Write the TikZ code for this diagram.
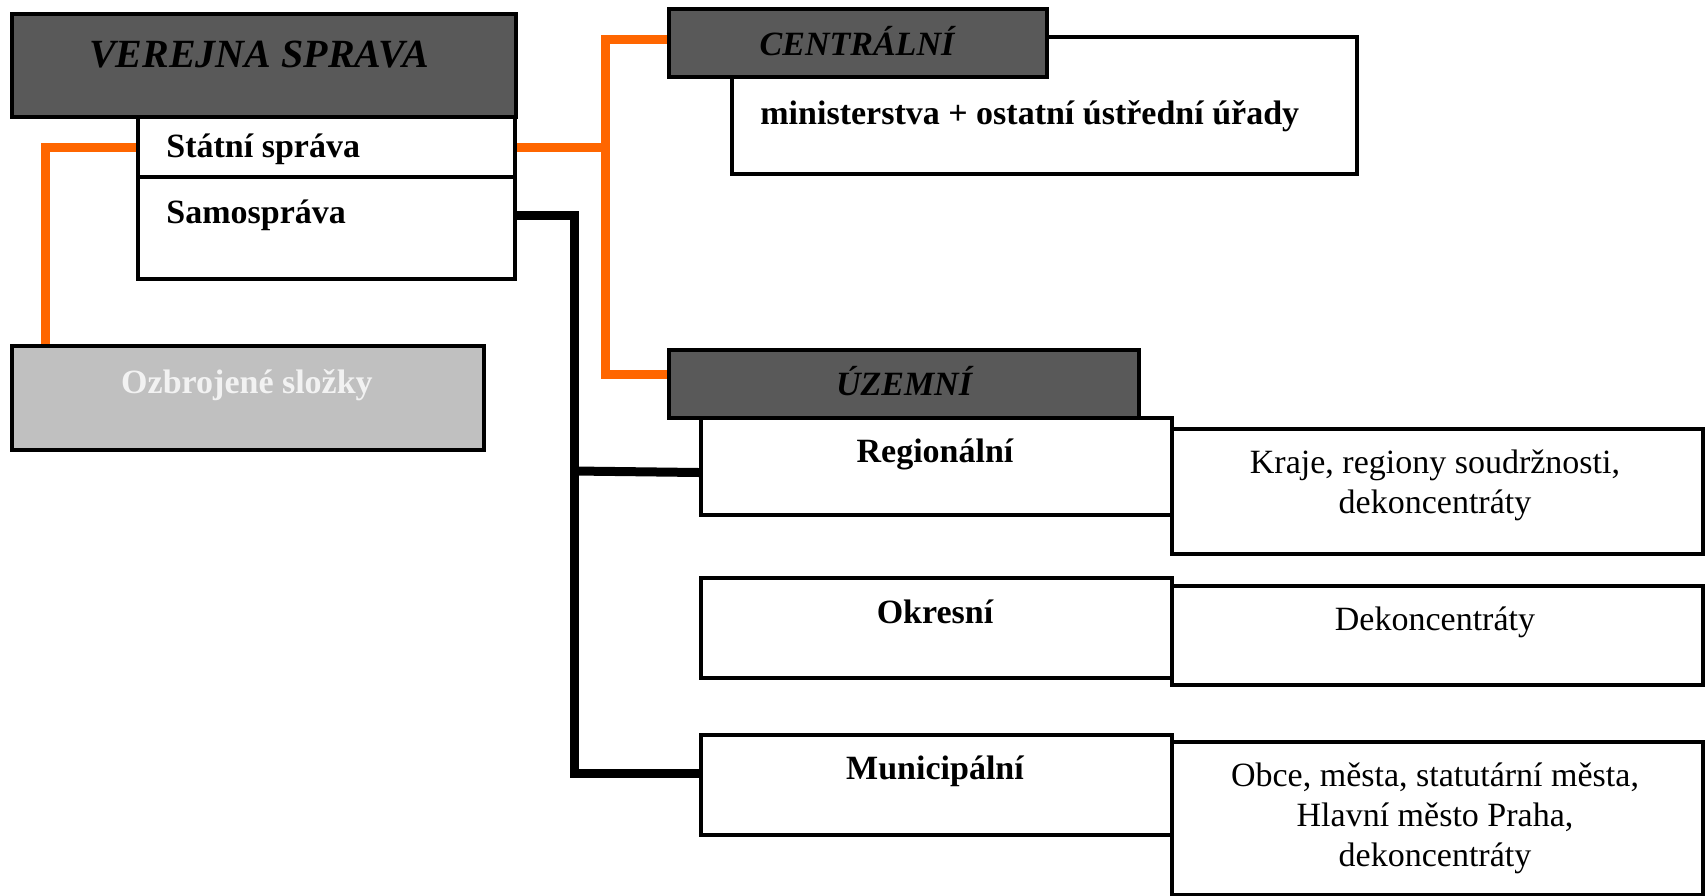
\documentclass[tikz,border=0pt]{standalone}
\usepackage{fontspec}
\setmainfont{Liberation Serif}
\usetikzlibrary{positioning,backgrounds}
\definecolor{headgrey}{HTML}{595959}
\definecolor{armygrey}{HTML}{C0C0C0}
\definecolor{linkorange}{HTML}{FF6600}
\definecolor{paletext}{HTML}{F2F2F2}
\tikzset{
  box/.style={draw=black, line width=2pt, fill=white, anchor=north west, inner sep=0pt},
  headbox/.style={box, fill=headgrey},
  txt/.style={font=\fontsize{17}{20}\selectfont, anchor=base, inner sep=0pt, align=center},
  orangelink/.style={draw=linkorange, line width=4.5pt},
  blacklink/.style={draw=black, line width=4.5pt},
}
\begin{document}
\begin{tikzpicture}[x=0.5pt, y=-0.5pt]
  \useasboundingbox (0,0) rectangle (1708,895);
  % left column
  \node[headbox, minimum width=252pt, minimum height=51.5pt] (verejna) at (10,12) {};
  \node[box, minimum width=188.5pt, minimum height=30pt] (statni) at (136,115) {};
  \node[box, minimum width=188.5pt, minimum height=51pt] (samo) at (136,175) {};
  \node[box, fill=armygrey, minimum width=236pt, minimum height=52pt] (ozbroj) at (10,344) {};
  % central level
  \node[box, minimum width=312.5pt, minimum height=68.5pt] (minist) at (730,35) {};
  \node[headbox, minimum width=189pt, minimum height=34pt] (central) at (667,7) {};
  % territorial level
  \node[headbox, minimum width=235pt, minimum height=34pt] (uzemni) at (667,348) {};
  \node[box, minimum width=235.5pt, minimum height=48.5pt] (region) at (699,416) {};
  \node[box, minimum width=265.5pt, minimum height=62.5pt] (kraje) at (1170,427) {};
  \node[box, minimum width=235.5pt, minimum height=50pt] (okres) at (699,576) {};
  \node[box, minimum width=265.5pt, minimum height=49.5pt] (dekonc) at (1170,584) {};
  \node[box, minimum width=235.5pt, minimum height=50pt] (munic) at (699,733) {};
  \node[box, minimum width=265.5pt, minimum height=76.5pt] (obce) at (1170,740) {};
  % texts (multi-line ones sit on their last line)
  \node[txt, font=\fontsize{20}{24}\selectfont\bfseries\itshape] (t-verejna) at (259,67) {VEREJNA SPRAVA};
  \node[txt, anchor=base west, font=\fontsize{17}{20}\selectfont\bfseries] (t-statni) at (166,157) {Státní správa};
  \node[txt, anchor=base west, font=\fontsize{17}{20}\selectfont\bfseries] (t-samo) at (166,223) {Samospráva};
  \node[txt, text=paletext, font=\fontsize{17}{20}\selectfont\bfseries] (t-ozbroj) at (247,393) {Ozbrojené složky};
  \node[txt, font=\fontsize{17}{20}\selectfont\bfseries\itshape] (t-central) at (857,55) {CENTRÁLNÍ};
  \node[txt, anchor=base west, font=\fontsize{17}{20}\selectfont\bfseries] (t-minist) at (760,124) {ministerstva + ostatní ústřední úřady};
  \node[txt, font=\fontsize{17}{20}\selectfont\bfseries\itshape] (t-uzemni) at (904,395) {ÚZEMNÍ};
  \node[txt, font=\fontsize{17}{20}\selectfont\bfseries] (t-region) at (935,462) {Regionální};
  \node[txt] (t-kraje) at (1435,513) {Kraje, regiony soudržnosti,\\dekoncentráty};
  \node[txt, font=\fontsize{17}{20}\selectfont\bfseries] (t-okres) at (935,623) {Okresní};
  \node[txt] (t-dekonc) at (1435,630) {Dekoncentráty};
  \node[txt, font=\fontsize{17}{20}\selectfont\bfseries] (t-munic) at (935,779) {Municipální};
  \node[txt] (t-obce) at (1435,866) {Obce, města, statutární města,\\Hlavní město Praha,\\dekoncentráty};
  % connectors
  \begin{scope}[on background layer]
    \coordinate (sj) at (605,147);
    \coordinate (bj) at (574,471);
    \draw[orangelink] (statni.west) -| ([xshift=17.5pt]ozbroj.north west);
    \draw[orangelink] (statni.east) -- (sj);
    \draw[orangelink] ([yshift=2pt]central.west) -| (sj) |- ([yshift=5pt]uzemni.west);
    \draw[blacklink] ([yshift=6.5pt]samo.east) -| (bj) |- ([yshift=6pt]munic.west);
    \draw[blacklink] (bj) -- ([yshift=-3pt]region.west);
  \end{scope}
\end{tikzpicture}
\end{document}
